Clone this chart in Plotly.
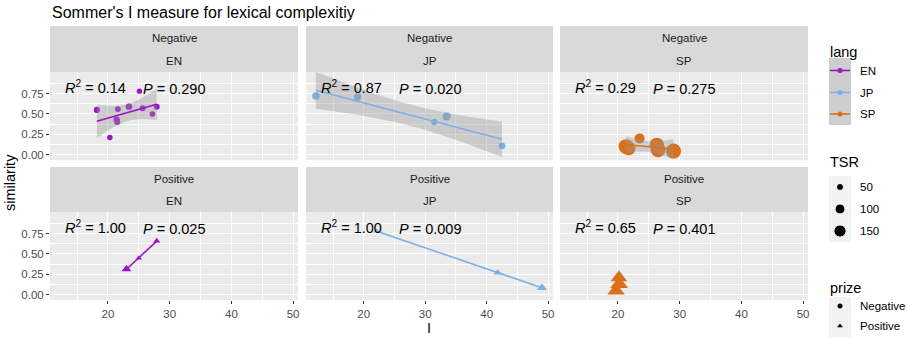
import numpy as np
import plotly.graph_objects as go

W, H = 907, 339

# ---------------- data ----------------
langs = ["EN", "JP", "SP"]
prizes = ["Negative", "Positive"]

EN_neg_I = [18.2, 20.3, 21.4, 21.5, 21.6, 23.4, 25.1, 25.6, 27.2, 27.9]
EN_neg_sim = [0.55, 0.21, 0.43, 0.40, 0.56, 0.59, 0.78, 0.57, 0.50, 0.59]
EN_neg_TSR = [38, 30, 40, 36, 34, 42, 28, 36, 32, 36]

JP_neg_I = [12.2, 19.0, 31.5, 33.5, 42.5]
JP_neg_sim = [0.72, 0.71, 0.40, 0.47, 0.11]
JP_neg_TSR = [55, 55, 40, 65, 45]

SP_neg_I = [21.3, 21.7, 23.5, 26.3, 26.5, 29.0]
SP_neg_sim = [0.10, 0.08, 0.20, 0.12, 0.06, 0.045]
SP_neg_TSR = [220, 200, 100, 210, 220, 230]

EN_pos_I = [23.0, 25.0, 27.9]
EN_pos_sim = [0.315, 0.45, 0.66]
EN_pos_TSR = [70, 30, 40]

JP_pos_I = [22.1, 41.8, 49.0]
JP_pos_sim = [0.78, 0.27, 0.086]
JP_pos_TSR = [30, 55, 80]

SP_pos_I = [19.7, 20.15, 20.2]
SP_pos_sim = [0.05, 0.21, 0.13]
SP_pos_TSR = [230, 210, 240]

R2_labels = ["0.14", "0.87", "0.29", "1.00", "1.00", "0.65"]
P_labels = ["0.290", "0.020", "0.275", "0.025", "0.009", "0.401"]

tsr_breaks = [50, 100, 150]
x_ticks = [20, 30, 40, 50]
y_ticks = [0.0, 0.25, 0.5, 0.75]
y_ticklabels = ["0.00", "0.25", "0.50", "0.75"]

# ---------------- style ----------------
FONT = "Liberation Sans, Arial, sans-serif"
lang_colors = {"EN": "#9C12C8", "JP": "#7BB0E8", "SP": "#D9711B"}
prize_symbols = {"Negative": "circle", "Positive": "triangle-up"}
BAND = "rgba(153,153,153,0.4)"
T95 = {1: 12.706, 2: 4.303, 3: 3.182, 4: 2.776, 5: 2.571, 6: 2.447,
       7: 2.365, 8: 2.306, 9: 2.262, 10: 2.228, 11: 2.201, 12: 2.179}

data = {
    ("Negative", "EN"): (EN_neg_I, EN_neg_sim, EN_neg_TSR),
    ("Negative", "JP"): (JP_neg_I, JP_neg_sim, JP_neg_TSR),
    ("Negative", "SP"): (SP_neg_I, SP_neg_sim, SP_neg_TSR),
    ("Positive", "EN"): (EN_pos_I, EN_pos_sim, EN_pos_TSR),
    ("Positive", "JP"): (JP_pos_I, JP_pos_sim, JP_pos_TSR),
    ("Positive", "SP"): (SP_pos_I, SP_pos_sim, SP_pos_TSR),
}
show_band = {"Negative": True, "Positive": False}

col_px = [(50, 298), (306, 553), (560, 808)]
row_strip = [(26, 72), (167, 212)]
row_panel = [(72, 160), (212, 300)]
x_range = [10.6, 50.8]
y_range = [-0.065, 1.015]


def size_of(v):
    return np.sqrt(np.asarray(v, dtype=float)) * 1.0


def px2x(px):
    return px / W


def py2y(py):
    return 1 - py / H


def text_ann(text, px, py, size, color="black", xanchor="left", **kw):
    d = dict(text=text, x=px2x(px), y=py2y(py), xref="paper", yref="paper",
             xanchor=xanchor, yanchor="middle", showarrow=False,
             font=dict(family=FONT, size=size, color=color))
    d.update(kw)
    return d


fig = go.Figure()
shapes, annotations = [], []
layout = {}

x_minor = [t - 5 for t in x_ticks] + [x_ticks[-1] + 5]
y_step = y_ticks[1] - y_ticks[0]
y_minor = [t + y_step / 2 for t in y_ticks]

for r, prize in enumerate(prizes):
    for c, lang in enumerate(langs):
        k = r * 3 + c + 1
        sfx = "" if k == 1 else str(k)
        x0, x1 = col_px[c]
        p0, p1 = row_panel[r]
        s0, s1 = row_strip[r]
        shapes.append(dict(type="rect", xref="paper", yref="paper",
                           x0=px2x(x0), x1=px2x(x1), y0=py2y(p1), y1=py2y(p0),
                           fillcolor="#EBEBEB", line=dict(width=0), layer="below"))
        shapes.append(dict(type="rect", xref="paper", yref="paper",
                           x0=px2x(x0), x1=px2x(x1), y0=py2y(s1), y1=py2y(s0),
                           fillcolor="#D9D9D9", line=dict(width=0), layer="below"))
        smid = (s0 + s1) / 2
        annotations.append(text_ann(prize, (x0 + x1) / 2, (s0 + smid) / 2 + 0.5, 11.5,
                                    "#1A1A1A", xanchor="center"))
        annotations.append(text_ann(lang, (x0 + x1) / 2, (smid + s1) / 2 + 0.5, 11.5,
                                    "#1A1A1A", xanchor="center"))
        layout["xaxis" + sfx] = dict(
            domain=[px2x(x0), px2x(x1)], range=x_range, anchor="y" + sfx,
            tickvals=x_ticks, ticktext=[str(t) for t in x_ticks],
            showticklabels=(r == 1), ticks="outside" if r == 1 else "",
            ticklen=3, tickwidth=1, tickcolor="#333333",
            tickfont=dict(family=FONT, size=11.5, color="#4D4D4D"),
            showgrid=True, gridcolor="white", gridwidth=1.1,
            minor=dict(tickvals=x_minor, showgrid=True, gridcolor="white", gridwidth=0.55),
            zeroline=False, showline=False)
        layout["yaxis" + sfx] = dict(
            domain=[py2y(p1), py2y(p0)], range=y_range, anchor="x" + sfx,
            tickvals=y_ticks, ticktext=y_ticklabels,
            showticklabels=(c == 0), ticks="outside" if c == 0 else "",
            ticklen=3, tickwidth=1, tickcolor="#333333",
            tickfont=dict(family=FONT, size=11.5, color="#4D4D4D"),
            showgrid=True, gridcolor="white", gridwidth=1.1,
            minor=dict(tickvals=y_minor, showgrid=True, gridcolor="white", gridwidth=0.55),
            zeroline=False, showline=False)

        xs, ys, tsr = data[(prize, lang)]
        xs = np.asarray(xs, float)
        ys = np.asarray(ys, float)
        col = lang_colors[lang]
        fig.add_trace(go.Scatter(
            x=xs, y=ys, mode="markers", xaxis="x" + sfx, yaxis="y" + sfx,
            marker=dict(color=col, size=size_of(tsr), symbol=prize_symbols[prize],
                        opacity=1, line=dict(width=0)),
            opacity=1, showlegend=False, hoverinfo="skip"))
        n = len(xs)
        b, a = np.polyfit(xs, ys, 1)
        xg = np.linspace(xs.min(), xs.max(), 80)
        yg = a + b * xg
        if show_band[prize] and n > 2:
            res = ys - (a + b * xs)
            s = np.sqrt(np.sum(res ** 2) / (n - 2))
            sxx = np.sum((xs - xs.mean()) ** 2)
            hw = T95[n - 2] * s * np.sqrt(1 / n + (xg - xs.mean()) ** 2 / sxx)
            fig.add_trace(go.Scatter(
                x=np.concatenate([xg, xg[::-1]]),
                y=np.concatenate([yg + hw, (yg - hw)[::-1]]),
                mode="lines", fill="toself", fillcolor=BAND, line=dict(width=0),
                xaxis="x" + sfx, yaxis="y" + sfx, showlegend=False, hoverinfo="skip"))
        fig.add_trace(go.Scatter(
            x=xg, y=yg, mode="lines", line=dict(color=col, width=1.6),
            xaxis="x" + sfx, yaxis="y" + sfx, showlegend=False, hoverinfo="skip"))

        idx = r * 3 + c
        annotations.append(text_ann("<i>R</i><sup>2</sup> = " + R2_labels[idx],
                                    x0 + 13, p0 + 14.5, 14.5))
        annotations.append(text_ann("<i>P</i> = " + P_labels[idx],
                                    x0 + 91, p0 + 16.5, 14.5))

# ---------------- legend (drawn manually, ggplot-style) ----------------
layout["xaxis7"] = dict(domain=[0, 1], range=[0, W], visible=False, anchor="y7", fixedrange=True)
layout["yaxis7"] = dict(domain=[0, 1], range=[H, 0], visible=False, anchor="x7", fixedrange=True)

LX0, LX1 = 829, 851
LXC = (LX0 + LX1) / 2
LAB_X = 858


def key_bg(py0, py1, color):
    shapes.append(dict(type="rect", xref="paper", yref="paper",
                       x0=px2x(LX0), x1=px2x(LX1), y0=py2y(py1), y1=py2y(py0),
                       fillcolor=color, line=dict(width=0), layer="below"))


# lang
annotations.append(text_ann("lang", LX0 - 1, 52, 14.5))
key_bg(58, 125, "#CECECE")
lang_y = [70.5, 92.5, 114]
for lang, py in zip(langs, lang_y):
    fig.add_trace(go.Scatter(x=[LX0 + 1, LXC, LX1 - 1], y=[py, py, py], mode="lines",
                             line=dict(color=lang_colors[lang], width=1.6),
                             xaxis="x7", yaxis="y7", showlegend=False, hoverinfo="skip"))
    fig.add_trace(go.Scatter(x=[LXC], y=[py], mode="markers",
                             marker=dict(color=lang_colors[lang], size=5, opacity=1),
                             xaxis="x7", yaxis="y7", showlegend=False, hoverinfo="skip"))
    annotations.append(text_ann(lang, LAB_X, py, 11.5))

# TSR
annotations.append(text_ann("TSR", LX0 - 1, 162, 14.5))
key_bg(176, 242, "#F2F2F2")
tsr_y = [187, 209, 231]
fig.add_trace(go.Scatter(x=[LXC] * len(tsr_breaks), y=tsr_y, mode="markers",
                         marker=dict(color="black", size=size_of(tsr_breaks), opacity=1),
                         xaxis="x7", yaxis="y7", showlegend=False, hoverinfo="skip"))
for v, py in zip(tsr_breaks, tsr_y):
    annotations.append(text_ann(str(v), LAB_X, py, 11.5))

# prize
annotations.append(text_ann("prize", LX0 - 1, 288, 14.5))
key_bg(297, 337, "#F2F2F2")
prize_y = [306, 326]
for prize, py in zip(prizes, prize_y):
    fig.add_trace(go.Scatter(x=[LXC], y=[py], mode="markers",
                             marker=dict(color="black", size=5, symbol=prize_symbols[prize],
                                         opacity=1),
                             xaxis="x7", yaxis="y7", showlegend=False, hoverinfo="skip"))
    annotations.append(text_ann(prize, LAB_X, py, 11.5))

# ---------------- titles ----------------
annotations.append(text_ann("Sommer's I measure for lexical complexitiy", 50, 12, 16))
annotations.append(text_ann("similarity", 10, 183, 14.5, xanchor="center", textangle=-90))
annotations.append(text_ann("I", 429, 328, 14.5, xanchor="center"))

fig.update_layout(
    width=W, height=H, margin=dict(l=0, r=0, t=0, b=0),
    paper_bgcolor="white", plot_bgcolor="rgba(0,0,0,0)",
    shapes=shapes, annotations=annotations, showlegend=False,
    **layout)

fig.write_html("out.html")
